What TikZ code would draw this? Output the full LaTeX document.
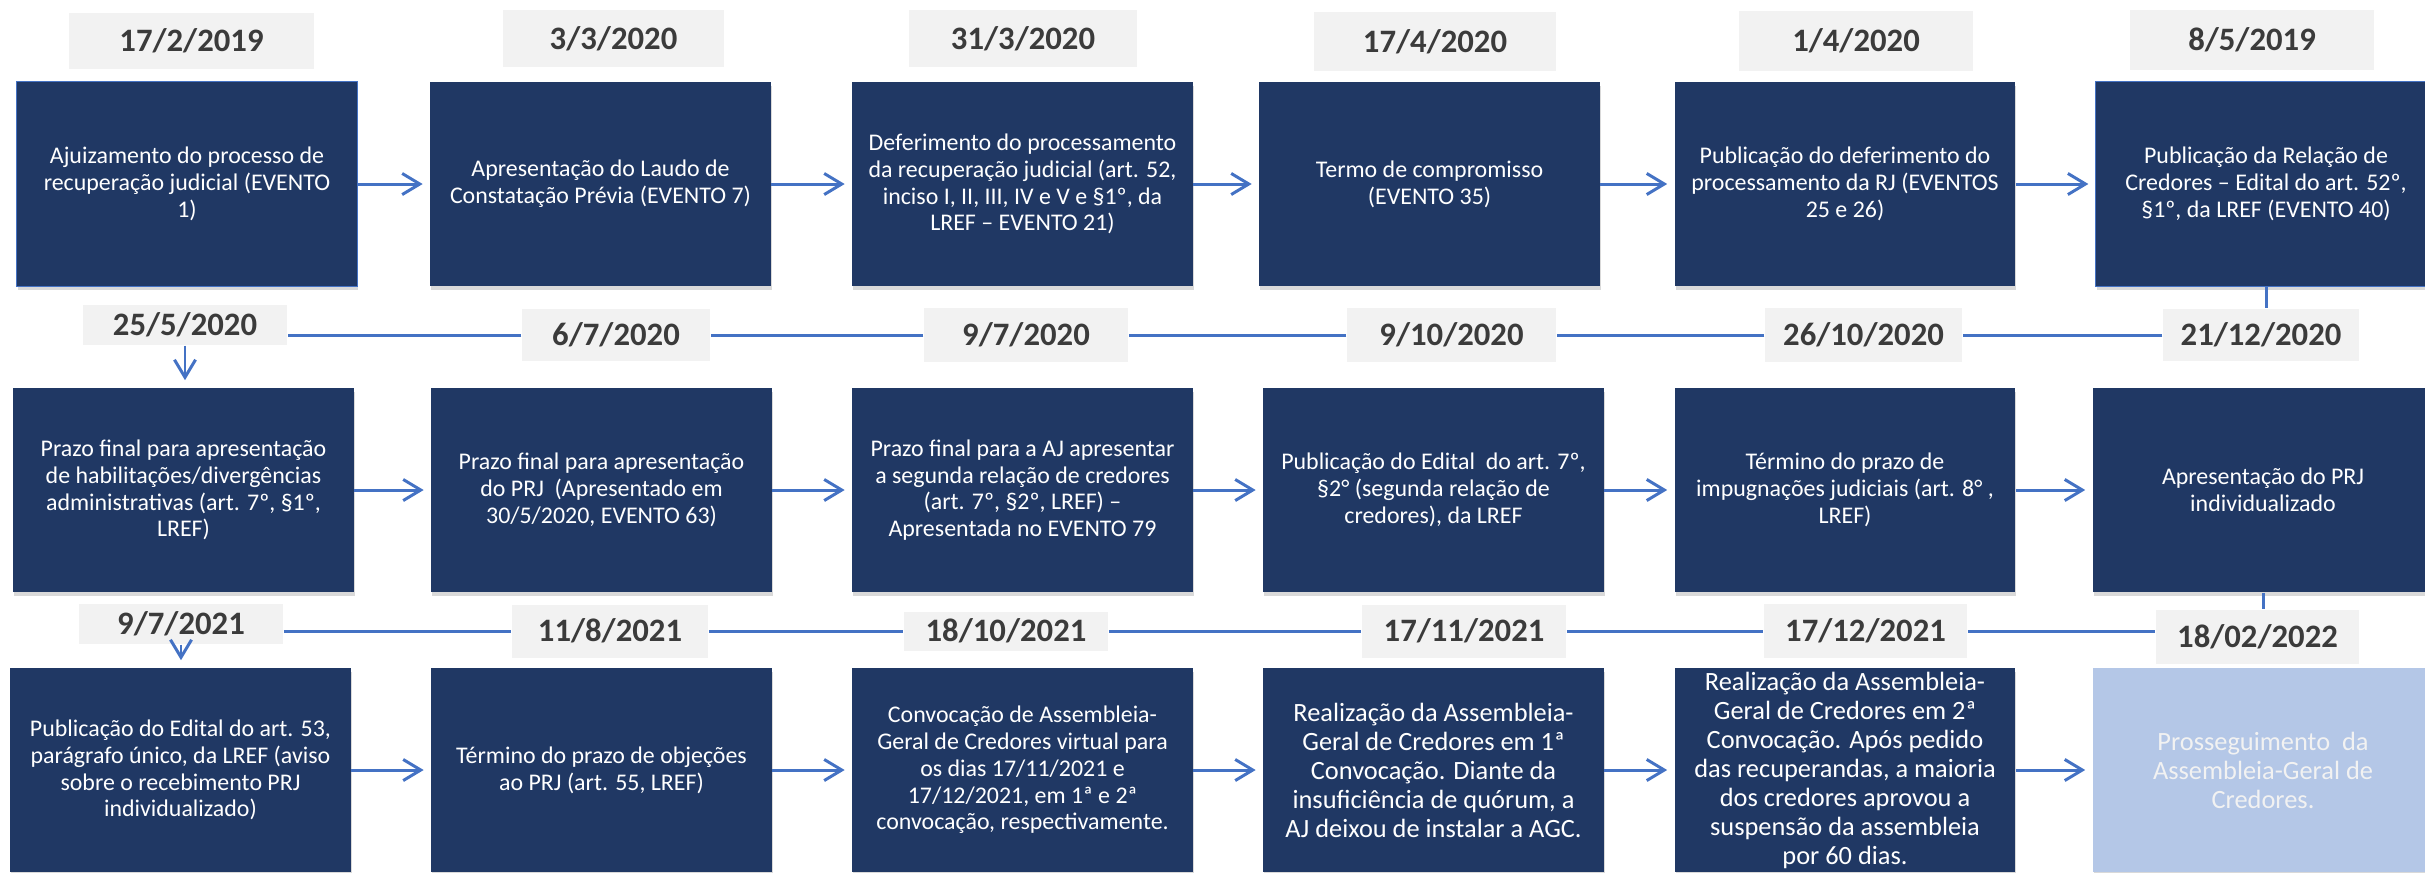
\documentclass[tikz,border=0pt]{standalone}
\usepackage{fontspec}
\setmainfont{Carlito}
\usepackage{xcolor}
\usetikzlibrary{arrows.meta}
\usetikzlibrary{calc}
\usetikzlibrary{shadows}
\definecolor{navy}{HTML}{203864}
\definecolor{tlblue}{HTML}{4472C4}
\definecolor{datebg}{HTML}{F2F2F2}
\definecolor{datetext}{HTML}{3B3B3B}
\definecolor{lastbg}{HTML}{B4C7E7}

\begin{document}
\begin{tikzpicture}[x=0.01cm, y=-0.01cm,
    evbox/.style={rectangle, fill=navy, text=white, align=center, inner sep=0pt,
      minimum width=3.4cm, minimum height=2.04cm,
      font=\fontsize{6.8}{7.6}\selectfont,
      drop shadow={opacity=0.3, shadow xshift=0.3pt, shadow yshift=-1.2pt}},
    evbig/.style={font=\fontsize{7.5}{8.25}\selectfont},
    datebox/.style={rectangle, fill=datebg, text=datetext, inner sep=0pt,
      font=\bfseries\fontsize{9.3}{11}\selectfont},
    tline/.style={draw=tlblue, line width=0.85pt},
    tarrow/.style={tline, -{Straight Barb[length=5pt, width=6pt]}, shorten >=2pt}]
  \useasboundingbox (0,0) rectangle (2425,872);
  \def\ya{184};
  \def\yb{490};
  \def\yc{770};

  % first row
  \node [evbox, draw=tlblue, line width=0.3pt] (b1) at (187,\ya) {Ajuizamento do processo de\\recuperação judicial (EVENTO\\1)};
  \node [evbox] (b2) at (600.5,\ya) {Apresentação do Laudo de\\Constatação Prévia (EVENTO 7)};
  \node [evbox] (b3) at (1022.5,\ya) {Deferimento do processamento\\da recuperação judicial (art. 52,\\inciso I, II, III, IV e V e §1º, da\\LREF – EVENTO 21)};
  \node [evbox] (b4) at (1429.5,\ya) {Termo de compromisso\\(EVENTO 35)};
  \node [evbox] (b5) at (1845,\ya) {Publicação do deferimento do\\processamento da RJ (EVENTOS\\25 e 26)};
  \node [evbox, draw=tlblue, line width=0.3pt] (b6) at (2266,\ya) {Publicação da Relação de\\Credores – Edital do art. 52º,\\§1º, da LREF (EVENTO 40)};

  \node [datebox, minimum width=2.45cm, minimum height=0.56cm] (d1) at (191.5,41) {17/2/2019};
  \node [datebox, minimum width=2.21cm, minimum height=0.56cm] (d2) at (613.5,38.5) {3/3/2020};
  \node [datebox, minimum width=2.28cm, minimum height=0.56cm] (d3) at (1023,38.5) {31/3/2020};
  \node [datebox, minimum width=2.42cm, minimum height=0.59cm] (d4) at (1435,41.5) {17/4/2020};
  \node [datebox, minimum width=2.34cm, minimum height=0.60cm] (d5) at (1856,41) {1/4/2020};
  \node [datebox, minimum width=2.44cm, minimum height=0.60cm] (d6) at (2252,40) {8/5/2019};

  \foreach \i [count=\j from 2] in {1,...,5}
    \draw [tarrow] (b\i.east) -- (b\j.west);

  % second row
  \node [evbox] (c1) at (183.5,\yb) {Prazo final para apresentação\\de habilitações/divergências\\administrativas (art. 7º, §1º,\\LREF)};
  \node [evbox] (c2) at (601.5,\yb) {Prazo final para apresentação\\do PRJ\ \ (Apresentado em\\30/5/2020, EVENTO 63)};
  \node [evbox] (c3) at (1022.5,\yb) {Prazo final para a AJ apresentar\\a segunda relação de credores\\(art. 7º, §2º, LREF) –\\Apresentada no EVENTO 79};
  \node [evbox] (c4) at (1433.5,\yb) {Publicação do Edital\ \ do art. 7º,\\§2° (segunda relação de\\credores), da LREF};
  \node [evbox] (c5) at (1845,\yb) {Término do prazo de\\impugnações judiciais (art. 8° ,\\LREF)};
  \node [evbox] (c6) at (2263,\yb) {Apresentação do PRJ\\individualizado};

  \node [datebox, minimum width=2.04cm, minimum height=0.40cm] (f1) at (185,325) {25/5/2020};
  \node [datebox, minimum width=1.88cm, minimum height=0.52cm] (f2) at (616,335) {6/7/2020};
  \node [datebox, minimum width=2.04cm, minimum height=0.54cm] (f3) at (1026,335) {9/7/2020};
  \node [datebox, minimum width=2.09cm, minimum height=0.53cm] (f4) at (1451.5,335) {9/10/2020};
  \node [datebox, minimum width=1.97cm, minimum height=0.53cm] (f5) at (1863.5,335) {26/10/2020};
  \node [datebox, minimum width=1.96cm, minimum height=0.52cm] (f6) at (2261,335) {21/12/2020};

  \draw [tline] (b6.south) -- (b6.south |- f6.north);
  \draw [tline] (f6.west) -- (f5.east) (f5.west) -- (f4.east) (f4.west) -- (f3.east)
    (f3.west) -- (f2.east) (f2.west) -- (f2.west -| f1.east);
  \draw [tarrow] (f1.south) -- (f1.south |- c1.north);
  \foreach \i [count=\j from 2] in {1,...,5}
    \draw [tarrow] (c\i.east) -- (c\j.west);

  % third row
  \node [evbox] (e1) at (180.5,\yc) {Publicação do Edital do art. 53,\\parágrafo único, da LREF (aviso\\sobre o recebimento PRJ\\individualizado)};
  \node [evbox] (e2) at (601.5,\yc) {Término do prazo de objeções\\ao PRJ (art. 55, LREF)};
  \node [evbox] (e3) at (1022.5,\yc) {Convocação de Assembleia-\\Geral de Credores virtual para\\os dias 17/11/2021 e\\17/12/2021, em 1ª e 2ª\\convocação, respectivamente.};
  \node [evbox, evbig] (e4) at (1433.5,\yc) {Realização da Assembleia-\\Geral de Credores em 1ª\\Convocação. Diante da\\insuficiência de quórum, a\\AJ deixou de instalar a AGC.};
  \node [evbox, evbig] (e5) at (1845,\yc) {Realização da Assembleia-\\Geral de Credores em 2ª\\Convocação. Após pedido\\das recuperandas, a maioria\\dos credores aprovou a\\suspensão da assembleia\\por 60 dias.};
  \node [evbox, evbig, fill=lastbg, text=datebg] (e6) at (2263,\yc) {Prosseguimento\ \ da\\Assembleia-Geral de\\Credores.};

  \node [datebox, minimum width=2.04cm, minimum height=0.40cm] (g1) at (181,624) {9/7/2021};
  \node [datebox, minimum width=1.96cm, minimum height=0.53cm] (g2) at (610,631) {11/8/2021};
  \node [datebox, minimum width=2.04cm, minimum height=0.39cm] (g3) at (1006,631) {18/10/2021};
  \node [datebox, minimum width=2.04cm, minimum height=0.53cm] (g4) at (1464,631) {17/11/2021};
  \node [datebox, minimum width=2.03cm, minimum height=0.54cm] (g5) at (1865.5,631) {17/12/2021};
  \node [datebox, minimum width=2.03cm, minimum height=0.54cm] (g6) at (2257.5,637) {18/02/2022};

  \draw [tline] (c6.south) -- (c6.south |- g6.north);
  \draw [tline] (g5.east) -- (g5.east -| g6.west) (g4.east) -- (g5.west) (g3.east) -- (g4.west)
    (g2.east) -- (g3.west) (g1.east |- g2.west) -- (g2.west);
  \draw [tarrow] (g1.south) -- (g1.south |- e1.north);
  \foreach \i [count=\j from 2] in {1,...,5}
    \draw [tarrow] (e\i.east) -- (e\j.west);
\end{tikzpicture}
\end{document}
